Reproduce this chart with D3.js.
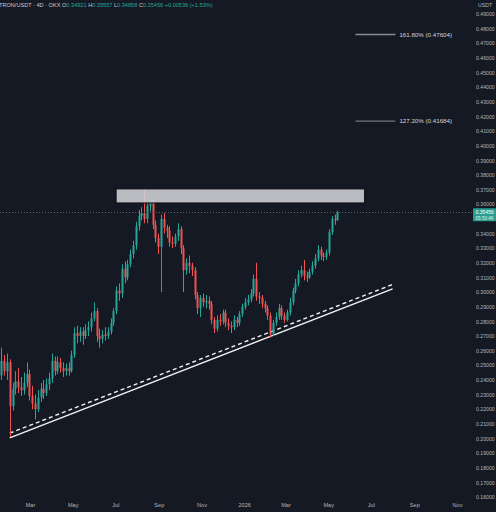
<!DOCTYPE html>
<html><head><meta charset="utf-8">
<script src="https://cdn.jsdelivr.net/npm/d3@7"></script>
<style>
html,body{margin:0;padding:0;background:#151923;}
svg{display:block;}
text{font-family:"Liberation Sans","DejaVu Sans",sans-serif;}
</style></head>
<body>
<svg id="c" width="496" height="512"></svg>
<script>
// ---------- data ----------
const firstCandle = "2025-01-19";   // 4D candles
const opens  = [.243,.253,.246,.252,.222,.234,.239,.235,.233,.238,.244,.229,.224,.220,.228,.234,.231,.237,.241,.253,.246,.252,.248,.246,.248,.246,.257,.272,.270,.273,.270,.274,.276,.282,.287,.270,.268,.271,.270,.273,.279,.287,.301,.299,.316,.310,.319,.326,.332,.345,.352,.354,.350,.359,.362,.346,.337,.331,.350,.344,.342,.334,.333,.338,.343,.330,.315,.320,.318,.315,.298,.289,.296,.293,.294,.292,.281,.275,.281,.280,.286,.279,.277,.276,.281,.279,.285,.290,.293,.295,.299,.309,.297,.296,.292,.289,.284,.271,.279,.283,.289,.284,.281,.286,.293,.301,.306,.312,.315,.311,.310,.314,.318,.323,.329,.325,.324,.327,.341,.350,.34921];
const highs  = [.262,.257,.258,.254,.238,.246,.248,.242,.245,.252,.247,.236,.230,.233,.238,.240,.241,.245,.258,.256,.256,.255,.252,.251,.252,.260,.276,.277,.276,.276,.278,.280,.286,.293,.289,.275,.274,.276,.276,.282,.289,.304,.306,.319,.321,.322,.329,.335,.348,.356,.358,.370,.362,.363,.364,.349,.340,.353,.354,.346,.345,.338,.340,.347,.345,.332,.323,.325,.320,.317,.300,.298,.299,.298,.297,.294,.283,.284,.285,.288,.288,.282,.280,.284,.283,.287,.292,.296,.298,.302,.312,.320,.300,.298,.294,.291,.286,.281,.286,.292,.291,.286,.288,.296,.303,.309,.315,.318,.322,.314,.316,.321,.326,.332,.331,.327,.329,.343,.352,.353,.35557];
const lows   = [.240,.243,.240,.201,.219,.230,.231,.229,.230,.235,.226,.220,.213,.218,.225,.227,.229,.233,.238,.243,.244,.245,.242,.243,.243,.245,.255,.265,.266,.264,.268,.270,.273,.280,.266,.262,.265,.267,.268,.271,.277,.285,.294,.296,.306,.308,.317,.323,.329,.342,.349,.347,.347,.355,.343,.334,.326,.300,.340,.337,.331,.330,.331,.335,.326,.300,.312,.313,.311,.295,.285,.283,.290,.289,.288,.278,.272,.273,.277,.278,.276,.274,.272,.274,.276,.277,.283,.288,.291,.293,.297,.294,.292,.289,.286,.281,.269,.270,.277,.281,.281,.279,.280,.284,.291,.299,.304,.310,.308,.307,.309,.312,.316,.321,.322,.321,.322,.325,.339,.346,.34858];
const closes = [.253,.246,.252,.222,.234,.239,.235,.233,.238,.244,.229,.224,.220,.228,.234,.231,.237,.241,.253,.246,.252,.248,.246,.248,.246,.257,.272,.270,.273,.270,.274,.276,.282,.287,.270,.268,.271,.270,.273,.279,.287,.301,.299,.316,.310,.319,.326,.332,.345,.352,.354,.350,.359,.362,.346,.337,.331,.350,.344,.342,.334,.333,.338,.343,.330,.315,.320,.318,.315,.298,.289,.296,.293,.294,.292,.281,.275,.281,.280,.286,.279,.277,.276,.281,.279,.285,.290,.293,.295,.299,.309,.297,.296,.292,.289,.284,.271,.279,.283,.289,.284,.281,.286,.293,.301,.306,.312,.315,.311,.310,.314,.318,.323,.329,.325,.324,.327,.341,.350,.34921,.35456];

// 0.35 is hidden under the last-price tag in the reference
const priceTicks = [0.16,0.17,0.18,0.19,0.20,0.21,0.22,0.23,0.24,0.25,0.26,0.27,0.28,0.29,0.30,0.31,0.32,0.33,0.34,0.36,0.37,0.38,0.39,0.40,0.41,0.42,0.43,0.44,0.45,0.46,0.47,0.48,0.49];
const monthTickDates = ["2025-03-01","2025-05-01","2025-07-01","2025-09-01","2025-11-01","2026-01-01","2026-03-01","2026-05-01","2026-07-01","2026-09-01","2026-11-01"];
const monthTickLabels = ["Mar","May","Jul","Sep","Nov","2026","Mar","May","Jul","Sep","Nov"];

const trendSolid  = {dates:["2025-01-31","2026-08-01"], values:[0.2004,0.3022]};
const trendDashed = {dates:["2025-01-31","2026-08-01"], values:[0.2036,0.3052]};
const zoneDates = ["2025-07-02","2026-06-22"];
const zoneValues = [0.3609,0.3705];
const fibLabels = ["161.80% (0.47604)","127.20% (0.41684)"];
const fibValues = [0.47604,0.41684];
const fibDates = ["2026-06-09","2026-08-05"];
const lastPrice = 0.35456;
const header = {symbol:"TRON/USDT · 4D · OKX", o:"0.34921", h:"0.35557", l:"0.34858", c:"0.35456", chg:"+0.00536 (+1.53%)"};

// ---------- drawing ----------
const parse = d3.timeParse("%Y-%m-%d");
const svg = d3.select("#c");
const W = 496, H = 512;
const bg = "#151923", up = "#26a69a", down = "#ef5350", txt = "#b2b5be";
svg.append("rect").attr("width",W).attr("height",H).attr("fill",bg);

const x = d3.scaleTime().domain([parse("2025-03-01"), parse("2026-11-01")]).range([30, 457]);
const y = d3.scaleLinear().domain([0.16, 0.49]).range([497, 14]);

const start = parse(firstCandle);
const candles = closes.map((c,i)=>({date:d3.timeDay.offset(start, 4*i), o:opens[i], h:highs[i], l:lows[i], c}));

const plot = svg.append("g");

// trend lines
const line = d3.line().x(d=>x(d[0])).y(d=>y(d[1]));
plot.append("path")
  .datum(trendSolid.dates.map((d,i)=>[parse(d), trendSolid.values[i]]))
  .attr("d", line).attr("stroke","#f2f2f2").attr("stroke-width",1.4).attr("fill","none");
plot.append("path")
  .datum(trendDashed.dates.map((d,i)=>[parse(d), trendDashed.values[i]]))
  .attr("d", line).attr("stroke","#f2f2f2").attr("stroke-width",1.4).attr("stroke-dasharray","4,3").attr("fill","none");

// candles
const cw = 2;
const cg = plot.append("g");
cg.selectAll("line.wick").data(candles).join("line")
  .attr("x1",d=>Math.round(x(d.date))+0.5).attr("x2",d=>Math.round(x(d.date))+0.5)
  .attr("y1",d=>y(d.h)).attr("y2",d=>y(d.l))
  .attr("stroke",d=>d.c>=d.o?up:down).attr("stroke-width",1);
cg.selectAll("rect.body").data(candles).join("rect")
  .attr("x",d=>Math.round(x(d.date))+0.5-cw/2)
  .attr("y",d=>y(Math.max(d.o,d.c)))
  .attr("width",cw)
  .attr("height",d=>Math.max(1, Math.abs(y(d.o)-y(d.c))))
  .attr("fill",d=>d.c>=d.o?up:down);

// resistance zone
plot.append("rect")
  .attr("x", x(parse(zoneDates[0]))).attr("width", x(parse(zoneDates[1]))-x(parse(zoneDates[0])))
  .attr("y", y(zoneValues[1])).attr("height", y(zoneValues[0])-y(zoneValues[1]))
  .attr("fill","#d1d3d8").attr("fill-opacity",0.88)
  .attr("stroke","#0a0b0f").attr("stroke-width",1);

// last price dotted line
plot.append("line").attr("x1",0).attr("x2",473)
  .attr("y1",Math.round(y(lastPrice))+0.5).attr("y2",Math.round(y(lastPrice))+0.5)
  .attr("stroke","#5b5f6b").attr("stroke-width",1).attr("stroke-dasharray","1,2");

// fib levels
fibValues.forEach((v,i)=>{
  plot.append("line").attr("x1",x(parse(fibDates[0]))).attr("x2",x(parse(fibDates[1])))
    .attr("y1",y(v)).attr("y2",y(v)).attr("stroke","#8a8d96").attr("stroke-width", i===0?1.6:1);
  plot.append("text").attr("x",x(parse(fibDates[1]))+4).attr("y",y(v)).attr("dy","0.35em")
    .attr("fill","#d1d4dc").attr("font-size",6.2).text(fibLabels[i]);
});

// right price axis
const yAxis = d3.axisRight(y).tickValues(priceTicks).tickSize(0).tickPadding(0).tickFormat(d3.format(".5f"));
const ya = svg.append("g").attr("transform","translate(476,0)").call(yAxis);
ya.select(".domain").remove();
ya.selectAll("text").attr("fill",txt).attr("font-size",5.2).attr("font-family","Liberation Sans, sans-serif");
svg.append("text").attr("x",478).attr("y",7).attr("fill",txt).attr("font-size",5.2).text("USDT");

// last price tag
const tagY = y(lastPrice);
svg.append("rect").attr("x",473).attr("y",tagY-4).attr("width",23).attr("height",13).attr("fill","#2a9d8f").attr("rx",1);
svg.append("text").attr("x",475.5).attr("y",tagY+1.8).attr("fill","#ffffff").attr("font-size",5.1).text("0.35456");
svg.append("text").attr("x",475.5).attr("y",tagY+7.4).attr("fill","#e6f3f1").attr("font-size",4.6).text("05:50:46");

// bottom time axis
const xAxis = d3.axisBottom(x).tickValues(monthTickDates.map(parse)).tickSize(0).tickPadding(0)
  .tickFormat((d,i)=>monthTickLabels[i]);
const xa = svg.append("g").attr("transform","translate(0,503)").call(xAxis);
xa.select(".domain").remove();
xa.selectAll("text").attr("fill",txt).attr("font-size",5.6).attr("font-family","Liberation Sans, sans-serif");

// header
const ht = svg.append("text").attr("x",-1).attr("y",7).attr("font-size",5.6).attr("fill","#c9ccd4");
ht.append("tspan").text(header.symbol+"  ");
[["O",header.o],["H",header.h],["L",header.l],["C",header.c]].forEach(([k,v])=>{
  ht.append("tspan").attr("fill","#c9ccd4").text(k);
  ht.append("tspan").attr("fill",up).text(v+"  ");
});
ht.append("tspan").attr("fill",up).text(header.chg);
</script>
</body></html>
